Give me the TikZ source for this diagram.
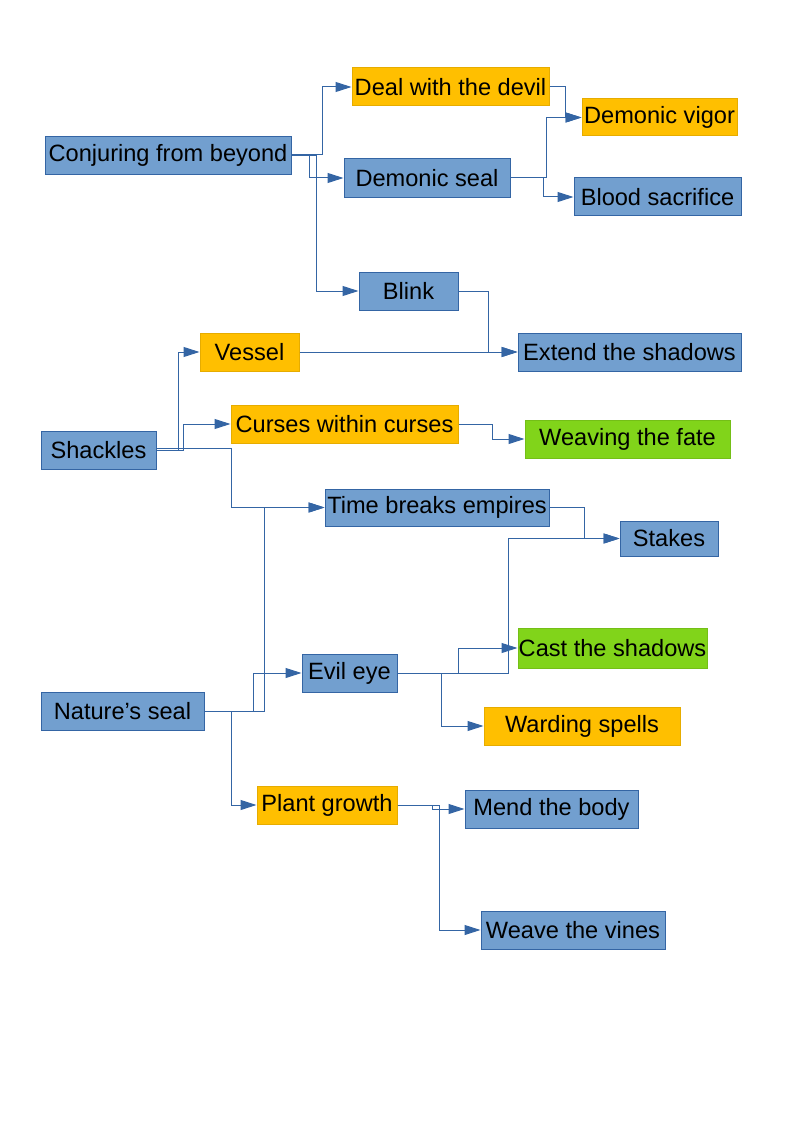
\documentclass[tikz,border=0pt]{standalone}
\usepackage{fontspec}
\setmainfont{Liberation Sans}
\usetikzlibrary{arrows.meta}
\definecolor{bfill}{HTML}{729FCF}
\definecolor{bdraw}{HTML}{3465A4}
\definecolor{ofill}{HTML}{FFBF00}
\definecolor{odraw}{HTML}{E6AC00}
\definecolor{gfill}{HTML}{81D41A}
\definecolor{gdraw}{HTML}{74BF17}
\definecolor{lcol}{HTML}{3465A4}
\tikzset{
  box/.style={rectangle, inner sep=0pt, minimum height=28.5pt, line width=0.75pt,
    font=\fontsize{17.7}{21}\selectfont, text=black},
  bluebox/.style={box, fill=bfill, draw=bdraw},
  orangebox/.style={box, fill=ofill, draw=odraw},
  greenbox/.style={box, fill=gfill, draw=gdraw},
  conn/.style={draw=lcol, line width=0.75pt,
    -{Triangle[length=12pt, width=7.5pt, fill=lcol]}},
}
\begin{document}
\begin{tikzpicture}[x=0.75pt, y=-0.75pt]
\useasboundingbox (0,0) rectangle (794,1123);
% nodes
\node[bluebox, minimum width=184.5pt] (conj) at (168,155.5) {Conjuring from beyond};
\node[orangebox, minimum width=147.75pt] (deal) at (450.5,87) {Deal with the devil};
\node[orangebox, minimum width=116.25pt, minimum height=27.75pt] (vigor) at (659.5,117.5) {Demonic vigor};
\node[bluebox, minimum width=124.5pt, minimum height=29.25pt] (seal) at (427,178) {Demonic seal};
\node[bluebox, minimum width=125.25pt] (blood) at (657.5,197) {Blood sacrifice};
\node[bluebox, minimum width=74.25pt] (blink) at (408.5,291) {Blink};
\node[bluebox, minimum width=167.25pt] (extend) at (629.5,352) {Extend the shadows};
\node[orangebox, minimum width=74.25pt] (vessel) at (249.5,352) {Vessel};
\node[bluebox, minimum width=86.25pt] (shackles) at (98.5,450) {Shackles};
\node[orangebox, minimum width=170.25pt] (curses) at (344.5,424) {Curses within curses};
\node[greenbox, minimum width=153.75pt] (weaving) at (627.5,439) {Weaving the fate};
\node[bluebox, minimum width=168pt, minimum height=27.75pt] (time) at (437,507.5) {Time breaks empires};
\node[bluebox, minimum width=73.5pt, minimum height=26.25pt] (stakes) at (669,538.5) {Stakes};
\node[greenbox, minimum width=141.75pt, minimum height=30pt] (cast) at (612.5,648) {Cast the shadows};
\node[bluebox, minimum width=71.25pt] (evil) at (349.5,673) {Evil eye};
\node[bluebox, minimum width=122.25pt] (nature) at (122.5,711) {Nature’s seal};
\node[orangebox, minimum width=147pt] (warding) at (582,726) {Warding spells};
\node[orangebox, minimum width=105pt] (plant) at (327,805) {Plant growth};
\node[bluebox, minimum width=129.75pt] (mend) at (551.5,809) {Mend the body};
\node[bluebox, minimum width=138pt] (weave) at (573,930) {Weave the vines};
% connectors
\draw[conn] ([yshift=1pt]conj.east) -- ++(31,0) |- (deal.west);
\draw[conn] ([yshift=1pt]conj.east) -- ++(18,0) |- (seal.west);
\draw[conn] (conj.east) -- ++(25,0) |- (blink.west);
\draw[conn] (deal.east) -- ++(16,0) |- (vigor.west);
\draw[conn] (seal.east) -- ++(36,0) |- (vigor.west);
\draw[conn] (seal.east) -- ++(33,0) |- (blood.west);
\draw[conn] (blink.east) -- ++(30,0) |- (extend.west);
\draw[conn] (vessel.east) -- (extend.west);
\draw[conn] (shackles.east) -- ++(22,0) |- (vessel.west);
\draw[conn] (shackles.east) -- ++(27,0) |- (curses.west);
\draw[conn] ([yshift=1.5pt]shackles.east) -- ++(75,0) |- (time.west);
\draw[conn] (curses.east) -- ++(34,0) |- (weaving.west);
\draw[conn] (time.east) -- ++(35,0) |- (stakes.west);
\draw[conn] (nature.east) -- ++(60,0) |- (time.west);
\draw[conn] (nature.east) -- ++(49,0) |- (evil.west);
\draw[conn] (nature.east) -- ++(27,0) |- (plant.west);
\draw[conn] (evil.east) -- ++(111,0) |- (stakes.west);
\draw[conn] (evil.east) -- ++(61,0) |- (cast.west);
\draw[conn] (evil.east) -- ++(44,0) |- (warding.west);
\draw[conn] (plant.east) -- ++(35,0) |- (mend.west);
\draw[conn] (plant.east) -- ++(42,0) |- (weave.west);
\end{tikzpicture}
\end{document}
